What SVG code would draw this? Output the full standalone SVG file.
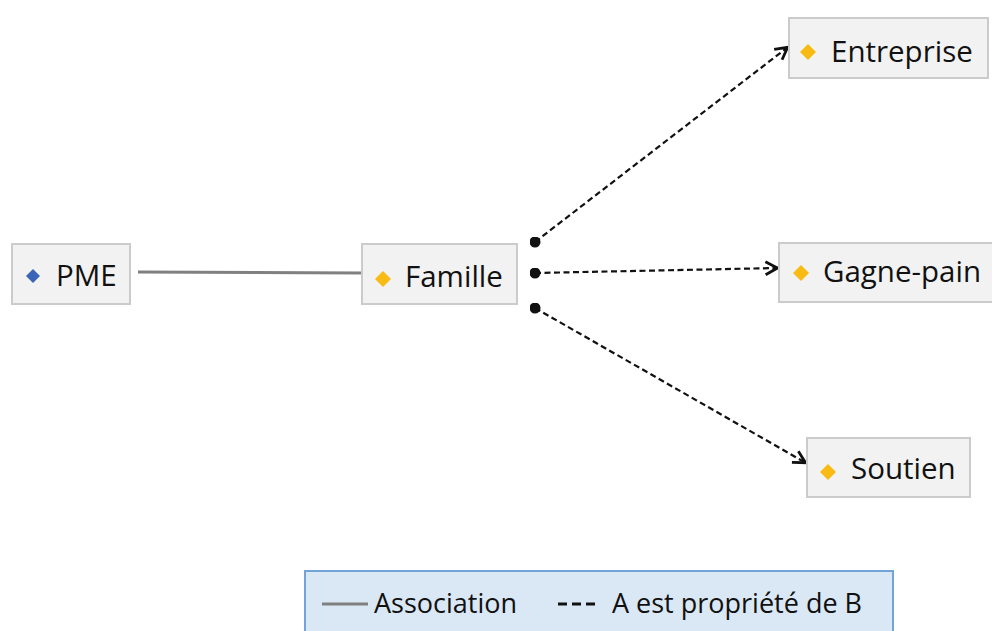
<svg xmlns="http://www.w3.org/2000/svg" width="992" height="631" viewBox="0 0 992 631">
<defs>
<style>
.box{fill:#f2f2f2;stroke:#cbcbcb;stroke-width:2}
.lbl{font-family:"Open Sans","Liberation Sans",sans-serif;font-size:29.5px;fill:#111}
.leg{font-family:"Open Sans","Liberation Sans",sans-serif;font-size:27px;fill:#111}
.prop{fill:none;stroke:#111;stroke-width:2.2;stroke-dasharray:6 3.5}
.assoc{fill:none;stroke:#808080;stroke-width:3}
</style>
<marker id="arr" viewBox="0 0 16 16" refX="14.5" refY="8" markerWidth="16" markerHeight="16" markerUnits="userSpaceOnUse" orient="auto">
<path d="M2,1.5 L14,8 L2,14.5" fill="none" stroke="#111" stroke-width="2.8" stroke-linejoin="miter"/>
</marker>
<marker id="dot" viewBox="0 0 12 12" refX="6" refY="6" markerWidth="11" markerHeight="11" markerUnits="userSpaceOnUse">
<circle cx="6" cy="6" r="6" fill="#111"/>
</marker>
</defs>
<rect width="992" height="631" fill="#fff"/>
<g id="connectors">
<line class="assoc" x1="138" y1="272" x2="362" y2="273"/>
<line class="prop" x1="535" y1="242" x2="788" y2="47" marker-start="url(#dot)" marker-end="url(#arr)"/>
<line class="prop" x1="535" y1="273" x2="778" y2="268" marker-start="url(#dot)" marker-end="url(#arr)"/>
<line class="prop" x1="535" y1="308" x2="806" y2="463" marker-start="url(#dot)" marker-end="url(#arr)"/>
</g>
<g id="pme">
<rect class="box" x="12" y="244" width="118" height="60"/>
<path d="M33,269 L40,276 L33,283 L26,276 Z" fill="#3a64b8"/>
<text class="lbl" x="56" y="286">PME</text>
</g>
<g id="famille">
<rect class="box" x="362" y="244" width="155" height="60"/>
<path d="M383,271 L391,279 L383,287 L375,279 Z" fill="#f8bb14"/>
<text class="lbl" x="405" y="287">Famille</text>
</g>
<g id="entreprise">
<rect class="box" x="789" y="18" width="199" height="60"/>
<path d="M808,44 L816,52 L808,60 L800,52 Z" fill="#f8bb14"/>
<text class="lbl" x="831" y="62">Entreprise</text>
</g>
<g id="gagne-pain">
<rect class="box" x="779" y="243" width="216" height="59"/>
<path d="M801,265 L809,273 L801,281 L793,273 Z" fill="#f8bb14"/>
<text class="lbl" x="823" y="282">Gagne-pain</text>
</g>
<g id="soutien">
<rect class="box" x="807" y="438" width="163" height="59"/>
<path d="M828,464 L836,472 L828,480 L820,472 Z" fill="#f8bb14"/>
<text class="lbl" x="851" y="479">Soutien</text>
</g>
<g id="legend">
<rect x="305" y="571" width="588" height="70" fill="#dae8f5" stroke="#74a3d8" stroke-width="2"/>
<line x1="322" y1="604" x2="368" y2="604" stroke="#808080" stroke-width="3"/>
<text class="leg" x="374" y="613">Association</text>
<line x1="558" y1="604" x2="600" y2="604" stroke="#111" stroke-width="3" stroke-dasharray="9 5"/>
<text class="leg" x="612" y="613">A est propriété de B</text>
</g>
</svg>
